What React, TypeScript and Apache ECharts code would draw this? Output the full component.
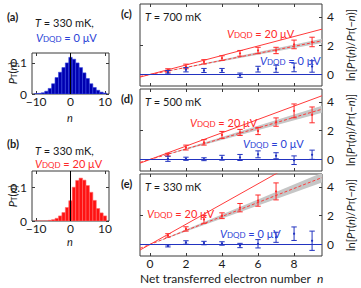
import React, { useEffect, useRef } from 'react';
import * as echarts from 'echarts';

const FONT = 'Lato, "Open Sans", sans-serif';

// ---- histograms (a), (b) ----
const histN = [-10, -9, -8, -7, -6, -5, -4, -3, -2, -1, 0, 1, 2, 3, 4, 5, 6, 7, 8, 9, 10];
const histA = [0.001, 0.002, 0.004, 0.009, 0.018, 0.033, 0.053, 0.07, 0.085, 0.1, 0.118, 0.112, 0.1, 0.085, 0.068, 0.05, 0.033, 0.021, 0.012, 0.006, 0.003];
const histB = [0, 0, 0, 0, 0.002, 0.004, 0.008, 0.015, 0.025, 0.04, 0.06, 0.1, 0.12, 0.127, 0.121, 0.105, 0.085, 0.061, 0.037, 0.024, 0.015];
const histXTicks = [-10, 0, 10];
const histYTicks = [0, 0.1];

// ---- panels (c), (d), (e) ----
const nPts = [1, 2, 3, 4, 5, 6, 7, 8, 9];
const redC = [0.28, 0.56, 0.88, 1.14, 1.47, 1.67, 1.67, 2.09, 2.26];
const redCErr = [0.12, 0.16, 0.15, 0.16, 0.2, 0.22, 0.22, 0.3, 0.33];
const blueC = [0.16, 0.33, 0.28, 0.28, -0.05, 0.37, 0.4, 0.49, 0.56];
const blueCErr = [0.12, 0.15, 0.14, 0.14, 0.15, 0.2, 0.25, 0.3, 0.4];

const redD = [0.33, 0.83, 1.19, 1.71, 1.88, 1.98, 2.6, 3.38, 3.1];
const redDErr = [0.1, 0.17, 0.19, 0.24, 0.21, 0.25, 0.29, 0.48, 0.55];
const blueD = [0.05, 0.05, 0.02, 0.12, 0.14, 0.36, 0.26, -0.05, 0.33];
const blueDErr = [0.18, 0.11, 0.1, 0.17, 0.21, 0.24, 0.21, 0.3, 0.32];

const redE = [0.63, 1.08, 1.74, 2.0, 2.56, 3.05, 3.69];
const redEErr = [0.12, 0.15, 0.27, 0.2, 0.29, 0.39, 0.59];
const blueE = [-0.1, 0.14, 0.1, 0.07, -0.07, 0.05, 0.5, 0.75, 0.26];
const blueEErr = [0.07, 0.12, 0.12, 0.12, 0.15, 0.29, 0.35, 0.47, 0.67];

const theorySlope = [0.33, 0.464, 0.703];
const fitSlope = [0.245, 0.366, 0.487];
const fitSlopeErr = [0.015, 0.026, 0.035];
const panelXTicks = [0, 2, 4, 6, 8];
const panelYTicks = [0, 2, 4];
const panelLeftYTicks = [0, 2];
const panelTemps = ['700', '500', '330'];
const panelTags = ['(c)', '(d)', '(e)'];

const X_MIN = -0.55, X_MAX = 9.55, Y_MIN = -0.8, Y_MAX = 4.9;
const H_X = 11.2;
const H_YMAX = [0.132, 0.148];

const RED = '#ff2a2a';
const RED_LINE = '#ff3b3b';
const BLUE = '#2233c0';
const BLUE_TXT = '#2a3fd6';
const FRAME = '#3a3a3a';
const TXT = '#1a1a1a';

const fmt = (v: number) => (v < 0 ? '\u2212' + Math.abs(v) : String(v));

function xAx(g: number, pos: string, min: number, max: number, ticks: number[], labels: boolean, margin = 2) {
  return {
    type: 'value', gridIndex: g, position: pos, min, max,
    axisLine: { show: false, onZero: false }, splitLine: { show: false },
    axisTick: { show: true, inside: true, length: 3, lineStyle: { color: FRAME, width: 1 }, customValues: ticks },
    axisLabel: { show: labels, customValues: ticks, margin, fontSize: 12, lineHeight: 11, color: TXT, fontFamily: FONT, formatter: fmt },
  };
}
function yAx(g: number, pos: string, min: number, max: number, ticks: number[], labels: boolean) {
  return {
    type: 'value', gridIndex: g, position: pos, min, max,
    axisLine: { show: false, onZero: false }, splitLine: { show: false },
    axisTick: { show: true, inside: true, length: 3, lineStyle: { color: FRAME, width: 1 }, customValues: ticks },
    axisLabel: { show: labels, customValues: ticks, margin: 5, fontSize: 12, lineHeight: 12, color: TXT, fontFamily: FONT, formatter: fmt },
  };
}

const histRender = (fill: string, stroke: string) => (params: any, api: any) => {
  const n = api.value(0), h = api.value(1);
  const a = api.coord([n - 0.5, h]);
  const b = api.coord([n + 0.5, 0]);
  return { type: 'rect', shape: { x: a[0], y: a[1], width: b[0] - a[0], height: b[1] - a[1] }, style: { fill, stroke, lineWidth: 0.6 } };
};

const errRender = (color: string) => (params: any, api: any) => {
  const n = api.value(0), y = api.value(1), e = api.value(2);
  const t = api.coord([n, y + e]);
  const b = api.coord([n, y - e]);
  const m = api.coord([n, y]);
  const cw = 2.7;
  const ls = { stroke: color, lineWidth: 1 };
  return {
    type: 'group', children: [
      { type: 'line', shape: { x1: t[0], y1: t[1], x2: b[0], y2: b[1] }, style: ls },
      { type: 'line', shape: { x1: t[0] - cw, y1: t[1], x2: t[0] + cw, y2: t[1] }, style: ls },
      { type: 'line', shape: { x1: b[0] - cw, y1: b[1], x2: b[0] + cw, y2: b[1] }, style: ls },
      { type: 'circle', shape: { cx: m[0], cy: m[1], r: 1.1 }, style: { fill: color } },
    ],
  };
};

const bandRender = (params: any, api: any) => {
  const lo = api.value(0), hi = api.value(1);
  const p0 = api.coord([0, 0]);
  const p1 = api.coord([X_MAX, lo * X_MAX]);
  const p2 = api.coord([X_MAX, hi * X_MAX]);
  return { type: 'polygon', shape: { points: [p0, p1, p2] }, style: { fill: '#c6c6c6' } };
};

const richFor = (color: string, size: number) => ({
  i: { fontStyle: 'italic', fontSize: size, fontFamily: FONT, fill: color, lineHeight: size },
  n: { fontSize: size, fontFamily: FONT, fill: color, lineHeight: size },
  b: { fontSize: size, fontFamily: FONT, fill: color, fontWeight: 'bold', lineHeight: size },
  s: { fontSize: Math.round(size * 0.72), fontFamily: FONT, fill: color, lineHeight: 5, verticalAlign: 'bottom' },
});

function txt(x: number, y: number, text: string, o: any = {}) {
  const color = o.color || TXT;
  const size = o.size || 11;
  const align = o.align || 'left';
  return {
    type: 'text', x, y, rotation: o.rot || 0, z: 100,
    style: {
      text, fill: color, fontSize: size, fontFamily: FONT,
      align, verticalAlign: 'middle', textAlign: align, textVerticalAlign: 'middle',
      rich: richFor(color, size),
    },
  };
}

function buildOption() {
  const grids = [
    { left: 32, top: 53, width: 77, height: 41 },
    { left: 32, top: 171, width: 77, height: 50 },
    { left: 140, top: 4, width: 182, height: 82 },
    { left: 140, top: 89, width: 182, height: 82 },
    { left: 140, top: 174, width: 182, height: 82 },
  ].map((g) => ({ ...g, show: true, borderColor: FRAME, borderWidth: 1, backgroundColor: 'transparent' }));

  const xAxis: any[] = [];
  const yAxis: any[] = [];
  const series: any[] = [];

  // histograms
  [histA, histB].forEach((h, g) => {
    xAxis.push(xAx(g, 'bottom', -H_X, H_X, histXTicks, true, 2));
    xAxis.push(xAx(g, 'top', -H_X, H_X, histXTicks, false));
    yAxis.push(yAx(g, 'left', 0, H_YMAX[g], histYTicks, true));
    yAxis.push(yAx(g, 'right', 0, H_YMAX[g], histYTicks, false));
    const fill = g === 0 ? '#0000b0' : '#ff1212';
    const stroke = g === 0 ? '#3848e0' : '#ff6a6a';
    series.push({
      type: 'custom', xAxisIndex: 2 * g, yAxisIndex: 2 * g, clip: true,
      renderItem: histRender(fill, stroke),
      data: histN.map((n, i) => [n, h[i]]),
    });
    series.push({
      type: 'line', xAxisIndex: 2 * g, yAxisIndex: 2 * g, showSymbol: false, symbol: 'none',
      lineStyle: { color: '#000', width: 1 }, z: 5,
      data: [[0, 0], [0, H_YMAX[g]]],
    });
  });

  const reds = [redC, redD, redE];
  const redErrs = [redCErr, redDErr, redEErr];
  const blues = [blueC, blueD, blueE];
  const blueErrs = [blueCErr, blueDErr, blueEErr];

  [0, 1, 2].forEach((p) => {
    const g = p + 2;
    xAxis.push(xAx(g, 'bottom', X_MIN, X_MAX, panelXTicks, p === 2));
    xAxis.push(xAx(g, 'top', X_MIN, X_MAX, panelXTicks, false));
    yAxis.push(yAx(g, 'left', Y_MIN, Y_MAX, panelLeftYTicks, false));
    yAxis.push(yAx(g, 'right', Y_MIN, Y_MAX, panelYTicks, true));
    const xi = 2 * g, yi = 2 * g;
    series.push({
      type: 'custom', xAxisIndex: xi, yAxisIndex: yi, clip: true, z: 1,
      renderItem: bandRender,
      data: [[fitSlope[p] - fitSlopeErr[p], fitSlope[p] + fitSlopeErr[p]]],
    });
    series.push({
      type: 'line', xAxisIndex: xi, yAxisIndex: yi, symbol: 'none', clip: true, z: 3,
      lineStyle: { color: RED_LINE, width: 1 },
      data: [[X_MIN, theorySlope[p] * X_MIN], [X_MAX, theorySlope[p] * X_MAX]],
    });
    series.push({
      type: 'line', xAxisIndex: xi, yAxisIndex: yi, symbol: 'none', clip: true, z: 3,
      lineStyle: { color: RED_LINE, width: 1, type: [3, 2] },
      data: [[X_MIN, fitSlope[p] * X_MIN], [X_MAX, fitSlope[p] * X_MAX]],
    });
    series.push({
      type: 'line', xAxisIndex: xi, yAxisIndex: yi, symbol: 'none', clip: true, z: 3,
      lineStyle: { color: BLUE, width: 1.2 },
      data: [[X_MIN, 0], [X_MAX, 0]],
    });
    series.push({
      type: 'custom', xAxisIndex: xi, yAxisIndex: yi, clip: true, z: 4,
      renderItem: errRender(RED),
      data: reds[p].map((v, i) => [nPts[i], v, redErrs[p][i]]),
    });
    series.push({
      type: 'custom', xAxisIndex: xi, yAxisIndex: yi, clip: true, z: 4,
      renderItem: errRender(BLUE),
      data: blues[p].map((v, i) => [nPts[i], v, blueErrs[p][i]]),
    });
  });

  const panelTop = [4, 89, 174];
  const redLbl = [[227, 33], [190, 122], [147, 213]];
  const blueLbl = [[260, 60], [243, 143], [220, 233]];
  const graphics: any[] = [
    txt(7, 16, '{b|(a)}'),
    txt(35, 22, '{i|T}{n| = 330 mK,}'),
    txt(36, 37, '{i|V}{s|DQD}{n| = 0 μV}', { color: BLUE_TXT }),
    txt(12, 73, '{i|P}{s|T}{n|(}{i|n}{n|)}', { rot: Math.PI / 2, align: 'center' }),
    txt(70, 117, '{i|n}', { align: 'center' }),
    txt(7, 143, '{b|(b)}'),
    txt(35, 150, '{i|T}{n| = 330 mK,}'),
    txt(35, 163, '{i|V}{s|DQD}{n| = 20 μV}', { color: RED }),
    txt(12, 196, '{i|P}{s|T}{n|(}{i|n}{n|)}', { rot: Math.PI / 2, align: 'center' }),
    txt(70, 241, '{i|n}', { align: 'center' }),
    txt(140, 278, '{n|Net transferred electron number  }{i|n}', { size: 12 }),
  ];
  [0, 1, 2].forEach((p) => {
    const t = panelTop[p];
    graphics.push(txt(121, t + 9, '{b|' + panelTags[p] + '}'));
    graphics.push(txt(145, t + 12, '{i|T}{n| = ' + panelTemps[p] + ' mK}'));
    graphics.push(txt(redLbl[p][0], redLbl[p][1], '{i|V}{s|DQD}{n| = 20 μV}', { color: RED }));
    graphics.push(txt(blueLbl[p][0], blueLbl[p][1], '{i|V}{s|DQD}{n| = 0 μV}', { color: BLUE_TXT }));
    graphics.push(txt(350, t + 41, '{n|ln[}{i|P}{s|T}{n|(}{i|n}{n|)/}{i|P}{s|T}{n|(−}{i|n}{n|)]}', { rot: Math.PI / 2, align: 'center', size: 11 }));
  });

  return {
    animation: false,
    backgroundColor: '#fff',
    textStyle: { fontFamily: FONT },
    grid: grids,
    xAxis,
    yAxis,
    series,
    graphic: graphics,
  };
}

export default function App() {
  const ref = useRef<HTMLDivElement>(null);
  useEffect(() => {
    const chart = echarts.init(ref.current as HTMLDivElement, undefined, { renderer: 'svg' });
    chart.setOption(buildOption() as any);
    return () => chart.dispose();
  }, []);
  return <div ref={ref} style={{ position: 'fixed', left: 0, top: 0, width: 361, height: 288, background: '#fff' }} />;
}
